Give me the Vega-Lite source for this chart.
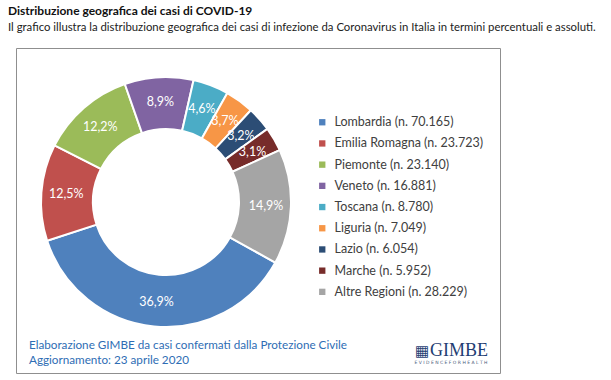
{
  "$schema": "https://vega.github.io/schema/vega-lite/v6.json",
  "width": 484,
  "height": 325,
  "autosize": {"type": "none"},
  "padding": {"left": 16, "top": 48, "right": 111, "bottom": 7},
  "background": "white",
  "config": {"view": {"stroke": "#8f8f8f", "strokeWidth": 1}},
  "title": {
    "text": "Distribuzione geografica dei casi di COVID-19",
    "subtitle": "Il grafico illustra la distribuzione geografica dei casi di infezione da Coronavirus in Italia in termini percentuali e assoluti.",
    "anchor": "start",
    "frame": "group",
    "dx": -8,
    "offset": 14,
    "font": "Lato",
    "fontSize": 12,
    "fontWeight": "bold",
    "color": "#111111",
    "subtitleFont": "Lato",
    "subtitleFontSize": 11.35,
    "subtitleColor": "#222222",
    "subtitlePadding": 4
  },
  "data": {
    "values": [
      {"i": 1, "label": "Lombardia (n. 70.165)", "n": 70165, "pct": "36,9%"},
      {"i": 2, "label": "Emilia Romagna (n. 23.723)", "n": 23723, "pct": "12,5%"},
      {"i": 3, "label": "Piemonte (n. 23.140)", "n": 23140, "pct": "12,2%"},
      {"i": 4, "label": "Veneto (n. 16.881)", "n": 16881, "pct": "8,9%"},
      {"i": 5, "label": "Toscana (n. 8.780)", "n": 8780, "pct": "4,6%"},
      {"i": 6, "label": "Liguria (n. 7.049)", "n": 7049, "pct": "3,7%"},
      {"i": 7, "label": "Lazio (n. 6.054)", "n": 6054, "pct": "3,2%"},
      {"i": 8, "label": "Marche (n. 5.952)", "n": 5952, "pct": "3,1%"},
      {"i": 9, "label": "Altre Regioni (n. 28.229)", "n": 28229, "pct": "14,9%"}
    ]
  },
  "layer": [
    {
      "mark": {"type": "arc", "outerRadius": 125, "innerRadius": 73, "x": 150, "y": 154, "stroke": "white", "strokeWidth": 2},
      "encoding": {
        "theta": {"field": "n", "type": "quantitative", "stack": true, "scale": {"range": [2.077, 8.360]}},
        "order": {"field": "i", "type": "quantitative"},
        "color": {
          "field": "label",
          "type": "nominal",
          "scale": {
            "domain": ["Lombardia (n. 70.165)", "Emilia Romagna (n. 23.723)", "Piemonte (n. 23.140)", "Veneto (n. 16.881)", "Toscana (n. 8.780)", "Liguria (n. 7.049)", "Lazio (n. 6.054)", "Marche (n. 5.952)", "Altre Regioni (n. 28.229)"],
            "range": ["#4F81BD", "#C0504D", "#9BBB59", "#8064A2", "#4BACC6", "#F79646", "#2C4D75", "#772C2A", "#A5A5A5"]
          },
          "legend": {
            "orient": "none",
            "legendX": 300,
            "legendY": 68,
            "title": null,
            "symbolType": "square",
            "symbolSize": 40,
            "symbolStrokeWidth": 0,
            "labelFont": "Lato",
            "labelFontSize": 12.5,
            "labelColor": "#404040",
            "labelOffset": 6,
            "rowPadding": 8.2,
            "labelLimit": 300
          }
        }
      }
    },
    {
      "mark": {"type": "text", "radius": 100, "x": 150, "y": 154, "color": "white", "font": "Lato", "fontSize": 12.5},
      "encoding": {
        "theta": {"field": "n", "type": "quantitative", "stack": true},
        "order": {"field": "i", "type": "quantitative"},
        "text": {"field": "pct"}
      }
    },
    {
      "data": {"values": [{"t": "Elaborazione GIMBE da casi confermati dalla Protezione Civile"}, {"t": "Aggiornamento: 23 aprile 2020"}]},
      "mark": {"type": "text", "align": "left", "baseline": "middle", "font": "Lato", "fontSize": 11.7, "color": "#2E6DB4", "x": 13},
      "encoding": {
        "y": {"field": "t", "type": "nominal", "sort": null, "axis": null, "scale": {"type": "point", "padding": 0, "range": [297, 312]}},
        "text": {"field": "t"}
      }
    },
    {
      "data": {"values": [{"t": "GIMBE"}]},
      "mark": {"type": "text", "align": "left", "baseline": "alphabetic", "font": "Liberation Serif", "fontSize": 18, "color": "#1F3E73", "x": 414, "y": 308},
      "encoding": {"text": {"field": "t"}}
    },
    {
      "data": {"values": [{"t": "▦"}]},
      "mark": {"type": "text", "align": "left", "baseline": "alphabetic", "font": "DejaVu Sans", "fontSize": 15, "color": "#1F3E73", "x": 399, "y": 308},
      "encoding": {"text": {"field": "t"}}
    },
    {
      "data": {"values": [{"t": "E V I D E N C E   F O R   H E A L T H"}]},
      "mark": {"type": "text", "align": "center", "baseline": "middle", "font": "DejaVu Sans", "fontSize": 4.5, "color": "#4a5a7a", "x": 435, "y": 315},
      "encoding": {"text": {"field": "t"}}
    }
  ]
}
